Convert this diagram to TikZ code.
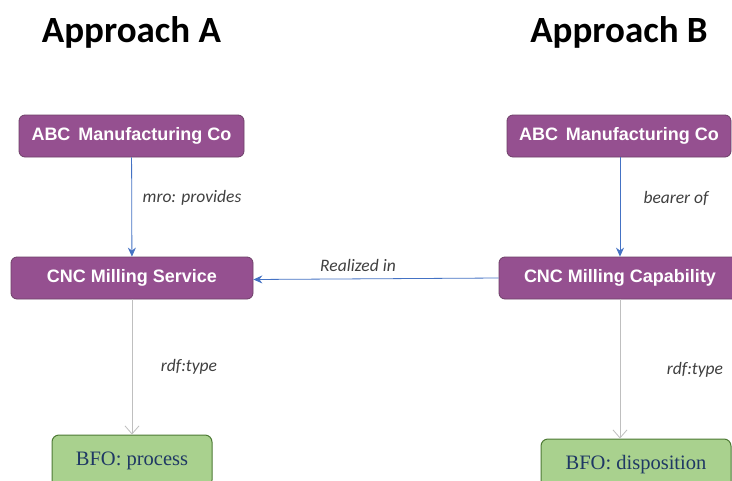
\documentclass[tikz,border=0pt]{standalone}
\usepackage{fontspec}
\setmainfont{Liberation Sans}
\newfontfamily\calib{Carlito}
\newfontfamily\arialf{Liberation Sans}
\newfontfamily\timesf{Liberation Serif}
\usetikzlibrary{arrows.meta}
\definecolor{purp}{HTML}{955090}
\definecolor{purpb}{HTML}{6E4068}
\definecolor{grn}{HTML}{A9D18E}
\definecolor{grnb}{HTML}{4E7A35}
\definecolor{bfoblue}{HTML}{1F3864}
\definecolor{arrblue}{HTML}{4472C4}
\definecolor{lblgray}{HTML}{404040}
\definecolor{rdfgray}{HTML}{BFBFBF}
\begin{document}
\begin{tikzpicture}[x=1pt,y=-1pt,
  pbox/.style={draw=purpb, line width=0.8pt, fill=purp, rounded corners=6pt,
    minimum height=42pt, inner sep=0pt, text=white,
    font=\arialf\bfseries\fontsize{18}{20}\selectfont},
  gbox/.style={draw=grnb, line width=1pt, fill=grn, rounded corners=7pt,
    minimum height=52pt, inner sep=0pt, text=bfoblue,
    font=\timesf\fontsize{20.5}{22}\selectfont},
  ttl/.style={font=\calib\bfseries\fontsize{37}{40}\selectfont},
  lbl/.style={text=lblgray, font=\calib\itshape\fontsize{17.5}{19}\selectfont},
  barrow/.style={draw=arrblue, line width=0.8pt, -{Stealth[length=9pt,width=8pt,inset=3pt]}},
  garrow/.style={draw=rdfgray, line width=0.8pt, -{Straight Barb[length=8pt,width=14pt]}}]
\useasboundingbox (0,0) rectangle (732,480);
\clip (0,0) rectangle (732,480);
\fill[white] (0,0) rectangle (732,480);

\node[ttl] (ta) at (131.5,32) {Approach A};
\node[ttl] (tb) at (619,32) {Approach B};

\node[pbox, minimum width=225pt] (abca) at (131.5,136) {ABC\hspace{3pt} Manufacturing Co};
\node[pbox, minimum width=242pt] (cnca) at (132,278) {CNC Milling Service};
\node[pbox, minimum width=224pt] (abcb) at (619,136) {ABC\hspace{3pt} Manufacturing Co};
\node[pbox, minimum width=242pt] (cncb) at (620,278) {CNC Milling Capability};
\node[gbox, minimum width=160pt] (bfoa) at (132,461) {BFO: process};
\node[gbox, minimum width=190pt] (bfob) at (636,465) {BFO: disposition};

\draw[barrow] (abca) -- (cnca);
\draw[barrow] (abcb.south -| cncb.north) -- (cncb.north);
\draw[barrow] (cncb.west) -- ([yshift=-1.5pt]cnca.east);
\draw[garrow] (cnca.south) -- (cnca.south |- bfoa.north);
\draw[garrow] (cncb.south) -- (cncb.south |- bfob.north);

\node[lbl] (l1) at (192,198) {mro: provides};
\node[lbl] (l2) at (676,198) {bearer of};
\node[lbl] (l3) at (358,265) {Realized in};
\node[lbl] (l4) at (189,367) {rdf:type};
\node[lbl] (l5) at (695,370) {rdf:type};
\end{tikzpicture}
\end{document}
